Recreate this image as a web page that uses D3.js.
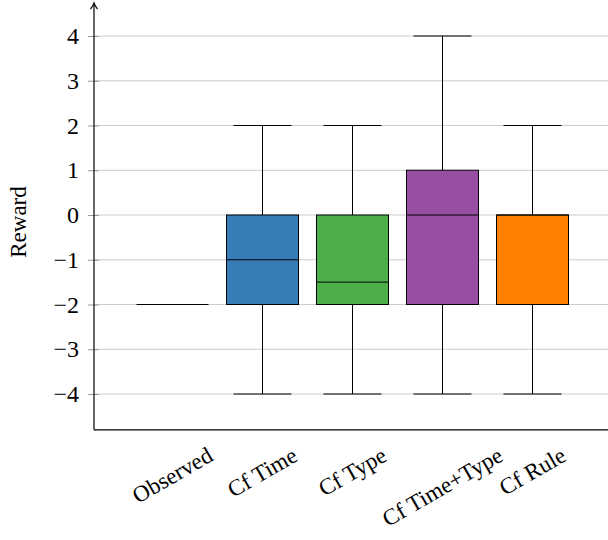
<!DOCTYPE html>
<html><head><meta charset="utf-8">
<script src="https://cdn.jsdelivr.net/npm/d3@7"></script>
<style>body{margin:0;background:#fff}svg{display:block}</style>
</head><body>
<script>
const categories = ["Observed", "Cf Time", "Cf Type", "Cf Time+Type", "Cf Rule"];
const whiskerLow = [-2, -4, -4, -4, -4];
const q1 = [-2, -2, -2, -2, -2];
const median = [-2, -1, -1.5, 0, 0];
const q3 = [-2, 0, 0, 1, 0];
const whiskerHigh = [-2, 2, 2, 4, 2];
const colors = ["#e41a1c", "#377eb8", "#4daf4a", "#984ea3", "#ff7f00"];
const yTicks = [-4, -3, -2, -1, 0, 1, 2, 3, 4];
const yLabel = "Reward";

(function () {
const W = 608, H = 540;
const svg = d3.select("body").append("svg").attr("width", W).attr("height", H);
const font = "'Liberation Serif', 'DejaVu Serif', serif";

const x = d3.scaleLinear().domain([0, 4]).range([172.5, 532.5]);
const y = d3.scaleLinear().domain([-4, 4]).range([394, 36]);
const pLeft = 94, pRight = 608, pBottom = y(-4.8), pTop = 3;
const boxW = 72, capW = 58;

// grid
svg.append("g").selectAll("line").data(yTicks).join("line")
  .attr("x1", pLeft).attr("x2", pRight).attr("y1", d => y(d)).attr("y2", d => y(d))
  .attr("stroke", "#cccccc").attr("stroke-width", 1);

// y axis ticks & labels
const yAxis = d3.axisLeft(y).tickValues(yTicks).tickSize(0).tickPadding(15)
  .tickFormat(d => d < 0 ? "\u2212" + Math.abs(d) : String(d));
const ga = svg.append("g").attr("transform", `translate(${pLeft},0)`).call(yAxis);
ga.select(".domain").remove();
ga.selectAll("text").attr("font-family", font).attr("font-size", 24).attr("fill", "#000");
ga.selectAll(".tick").append("line").attr("x1", -6).attr("x2", 5).attr("stroke", "#999").attr("stroke-width", 1);

// boxes
const g = svg.append("g");
categories.forEach((c, i) => {
  const cx = x(i);
  g.append("line").attr("x1", cx).attr("x2", cx).attr("y1", y(whiskerHigh[i])).attr("y2", y(q3[i])).attr("stroke", "#000");
  g.append("line").attr("x1", cx).attr("x2", cx).attr("y1", y(q1[i])).attr("y2", y(whiskerLow[i])).attr("stroke", "#000");
  [whiskerLow[i], whiskerHigh[i]].forEach(v => {
    g.append("line").attr("x1", cx - capW / 2).attr("x2", cx + capW / 2).attr("y1", y(v)).attr("y2", y(v)).attr("stroke", "#000");
  });
  g.append("rect").attr("x", cx - boxW / 2).attr("width", boxW)
    .attr("y", y(q3[i])).attr("height", Math.max(0, y(q1[i]) - y(q3[i])))
    .attr("fill", colors[i]).attr("stroke", "#000").attr("stroke-width", 1);
  g.append("line").attr("x1", cx - boxW / 2).attr("x2", cx + boxW / 2).attr("y1", y(median[i])).attr("y2", y(median[i])).attr("stroke", "#000");
});

// axes lines
svg.append("line").attr("x1", pLeft).attr("x2", pRight).attr("y1", pBottom).attr("y2", pBottom).attr("stroke", "#000").attr("stroke-width", 1.2);
svg.append("line").attr("x1", pLeft).attr("x2", pLeft).attr("y1", pBottom).attr("y2", pTop + 1).attr("stroke", "#000").attr("stroke-width", 1.2);
svg.append("path").attr("d", `M${pLeft - 3.5},${pTop + 6} Q${pLeft - 1},${pTop + 3} ${pLeft},${pTop} Q${pLeft + 1},${pTop + 3} ${pLeft + 3.5},${pTop + 6}`)
  .attr("fill", "none").attr("stroke", "#000").attr("stroke-width", 1.2);

// x labels
categories.forEach((c, i) => {
  const t = svg.append("text").text(c).attr("font-family", font).attr("font-size", 23)
    .attr("text-anchor", "middle").attr("dominant-baseline", "central");
  const w = t.node().getComputedTextLength();
  const h = 17;
  const cy = 446 + (w * 0.5 + h * 0.866) / 2;
  t.attr("transform", `translate(${x(i)},${cy}) rotate(-30)`);
});

// y label
svg.append("text").text(yLabel).attr("font-family", font).attr("font-size", 23)
  .attr("text-anchor", "middle").attr("transform", `translate(26,222) rotate(-90)`);
})();
</script>
</body></html>
